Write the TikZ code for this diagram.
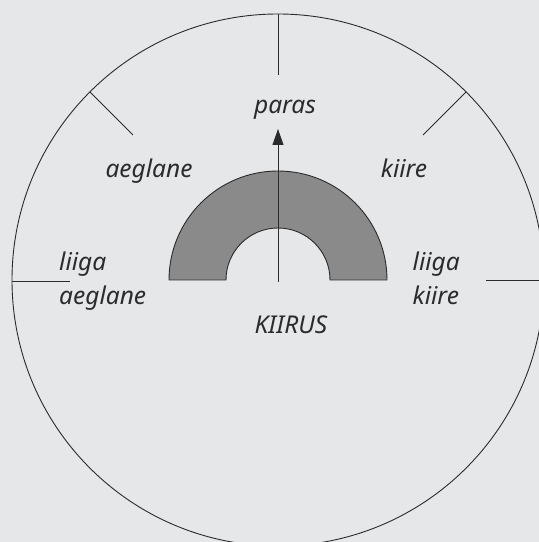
\documentclass[tikz,border=0pt]{standalone}
\usepackage{fontspec}
\setmainfont{Noto Sans}
\usetikzlibrary{arrows.meta}
\definecolor{bg}{HTML}{E6E7E9}
\definecolor{ink}{HTML}{2B2B2B}
\definecolor{ringgray}{HTML}{8A8A8A}
\tikzset{
  lbl/.style={inner sep=0pt, text=ink, font=\fontsize{24.5}{28}\selectfont\itshape},
  rim/.style={draw=ink, line width=0.9pt},
  tick/.style={draw=ink, line width=0.9pt},
}
\begin{document}
\begin{tikzpicture}[x=1pt,y=1pt]
\useasboundingbox (0,0) rectangle (539,542);
\fill[bg] (0,0) rectangle (539,542);
\clip (0,0) rectangle (539,542);
\coordinate (c) at (278,262);
% big circle
\draw[rim] (c) circle[radius=266];
% shaded half annulus
\path[fill=ringgray, draw=ink, line width=0.9pt] (169,262) arc[start angle=180,end angle=0,radius=109]
  -- (330,262) arc[start angle=0,end angle=180,radius=52] -- cycle;
% ticks
\coordinate (t1o) at (278,528); \coordinate (t1i) at (278,467);
\coordinate (t2o) at (90,450);  \coordinate (t2i) at (133,407);
\coordinate (t3o) at (466,450); \coordinate (t3i) at (423,407);
\coordinate (t4o) at (12,261);  \coordinate (t4i) at (70,261);
\coordinate (t5o) at (545,262); \coordinate (t5i) at (486,262);
\draw[tick] (t1o) -- (t1i);
\draw[tick] (t2o) -- (t2i);
\draw[tick] (t3o) -- (t3i);
\draw[tick] (t4o) -- (t4i);
\draw[tick] (t5o) -- (t5i);
% arrow
\coordinate (base) at (278,260);
\coordinate (tip) at (278,413);
\draw[tick, -{Triangle[length=16pt,width=11pt]}] (base) -- (tip);
% labels
\node[lbl, anchor=base] (paras) at (285,428.7) {paras};
\node[lbl, anchor=base] (aeg) at (149,364) {aeglane};
\node[lbl, anchor=base] (kiire) at (404,364) {kiire};
\node[lbl, anchor=base west] (liigaL) at (59,271) {liiga};
\node[lbl, anchor=base west] (aegL) at (59,237.5) {aeglane};
\node[lbl, anchor=base west] (liigaR) at (412.5,271) {liiga};
\node[lbl, anchor=base west] (kiireR) at (412.5,237.5) {kiire};
\node[lbl, anchor=base] (kiirus) at (291,208) {KIIRUS};
\end{tikzpicture}
\end{document}
